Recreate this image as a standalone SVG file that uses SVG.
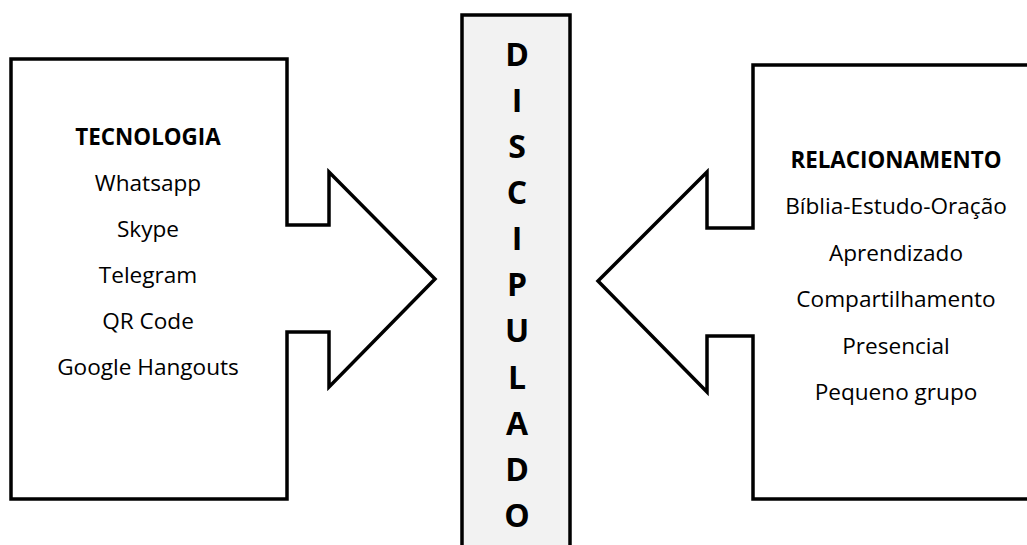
<svg xmlns="http://www.w3.org/2000/svg" width="1027" height="545" viewBox="0 0 1027 545">
<style>
.shape{fill:#fff;stroke:#000;stroke-width:3.5;stroke-linejoin:miter}
.col{fill:#f2f2f2;stroke:#000;stroke-width:3.5}
text{font-family:"Open Sans","Noto Sans","Liberation Sans",sans-serif;fill:#000;text-anchor:middle}
.t{font-size:22.4px;font-weight:bold}
.i{font-size:22.6px}
.v{font-size:32px;font-weight:bold}
</style>
<rect width="1027" height="545" fill="#fff"/>
<g id="tecnologia">
<path class="shape" d="M11,59 H287 V225 H329 V172 L435,279 L329,387 V332 H287 V499 H11 Z"/>
<text class="t" x="148" y="145">TECNOLOGIA</text>
<text class="i" x="148" y="191">Whatsapp</text>
<text class="i" x="148" y="237">Skype</text>
<text class="i" x="148" y="283">Telegram</text>
<text class="i" x="148" y="329">QR Code</text>
<text class="i" x="148" y="375">Google Hangouts</text>
</g>
<g id="relacionamento">
<path class="shape" d="M1035,65 H753 V228 H707 V172 L598,281 L707,392 V336 H753 V499 H1035 Z"/>
<text class="t" x="896" y="168">RELACIONAMENTO</text>
<text class="i" x="896" y="214">Bíblia-Estudo-Oração</text>
<text class="i" x="896" y="261">Aprendizado</text>
<text class="i" x="896" y="307">Compartilhamento</text>
<text class="i" x="896" y="354">Presencial</text>
<text class="i" x="896" y="400">Pequeno grupo</text>
</g>
<g id="discipulado">
<rect class="col" x="462" y="15" width="108" height="545"/>
<text class="v" x="517" y="66">D</text>
<text class="v" x="517" y="112">I</text>
<text class="v" x="517" y="158">S</text>
<text class="v" x="517" y="204">C</text>
<text class="v" x="517" y="250">I</text>
<text class="v" x="517" y="296">P</text>
<text class="v" x="517" y="342">U</text>
<text class="v" x="517" y="389">L</text>
<text class="v" x="517" y="435">A</text>
<text class="v" x="517" y="481">D</text>
<text class="v" x="517" y="527">O</text>
</g>
<g id="connectors"></g>
</svg>
